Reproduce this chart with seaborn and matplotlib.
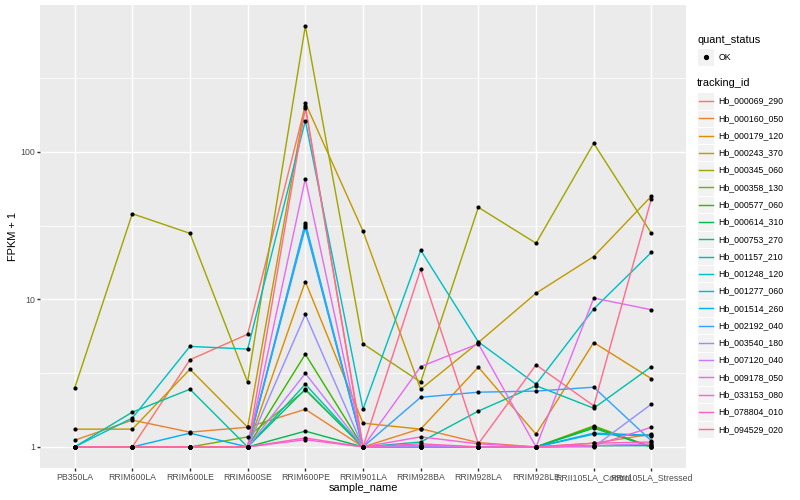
import numpy as np
import pandas as pd
import matplotlib
matplotlib.use("Agg")
import matplotlib.pyplot as plt
import seaborn as sns
from matplotlib.ticker import FixedLocator, NullFormatter, FixedFormatter
from matplotlib.patches import Rectangle

# samples on the x axis, in plotted order
samples = ["PB350LA", "RRIM600LA", "RRIM600LE", "RRIM600SE", "RRIM600PE", "RRIM901LA",
           "RRIM928BA", "RRIM928LA", "RRIM928LE", "RRII105LA_Control", "RRII105LA_Stressed"]

tracking_ids = ["Hb_000069_290", "Hb_000160_050", "Hb_000179_120", "Hb_000243_370",
                "Hb_000345_060", "Hb_000358_130", "Hb_000577_060", "Hb_000614_310",
                "Hb_000753_270", "Hb_001157_210", "Hb_001248_120", "Hb_001277_060",
                "Hb_001514_260", "Hb_002192_040", "Hb_003540_180", "Hb_007120_040",
                "Hb_009178_050", "Hb_033153_080", "Hb_078804_010", "Hb_094529_020"]

# FPKM + 1 per sample
hb_000069_290 = [1, 1, 3.9, 5.8, 205, 1, 1.02, 1, 1, 1.02, 1.03]
hb_000160_050 = [1.11, 1.52, 1.26, 1.36, 1.8, 1.0, 1.33, 1.07, 1.0, 1.06, 1.22]
hb_000179_120 = [1, 1, 1, 1, 13.2, 1.45, 1.32, 3.47, 1.22, 5.1, 2.9]
hb_000243_370 = [1.32, 1.32, 3.36, 1.36, 214, 29, 2.46, 5.1, 11, 19.5, 50]
hb_000345_060 = [2.5, 38, 28, 2.75, 710, 5.0, 2.75, 42, 24, 114, 28]
hb_000358_130 = [1, 1, 1.0, 1.17, 2.43, 1, 1, 1, 1, 1.39, 1.0]
hb_000577_060 = [1, 1, 1, 1, 4.25, 1, 1, 1, 1, 1.37, 1.0]
hb_000614_310 = [1, 1, 1, 1, 1.28, 1, 1, 1, 1, 1.34, 1.0]
hb_000753_270 = [1, 1, 1, 1, 2.46, 1, 1, 1, 1, 1.02, 1.02]
hb_001157_210 = [1, 1.72, 2.46, 1.0, 2.66, 1, 1.08, 1.75, 2.6, 1.83, 3.5]
hb_001248_120 = [1, 1.57, 4.8, 4.6, 162, 1.8, 21.5, 5.15, 2.66, 8.6, 20.8]
hb_001277_060 = [1, 1, 1, 1, 33, 1, 1.02, 1, 1, 1.22, 1.19]
hb_001514_260 = [1, 1, 1.24, 1, 30.7, 1, 1, 1, 1, 1.24, 1.2]
hb_002192_040 = [1, 1, 1, 1, 32, 1, 2.17, 2.35, 2.39, 2.54, 1.1]
hb_003540_180 = [1, 1, 1, 1, 7.9, 1, 1, 1, 1, 1.0, 1.95]
hb_007120_040 = [1, 1, 1, 1, 3.15, 1, 1.02, 1, 1, 1.02, 1.05]
hb_009178_050 = [1, 1, 1, 1, 65.6, 1, 3.5, 5.0, 1.0, 10.2, 8.5]
hb_033153_080 = [1, 1, 1, 1, 1.12, 1, 1.17, 1.05, 1, 1.02, 1.36]
hb_078804_010 = [1, 1, 1, 1, 1.15, 1, 1.05, 1, 1, 1.06, 1.08]
hb_094529_020 = [1, 1, 1, 1, 198, 1, 16, 1.05, 3.6, 1.9, 48]

series = [hb_000069_290, hb_000160_050, hb_000179_120, hb_000243_370, hb_000345_060,
          hb_000358_130, hb_000577_060, hb_000614_310, hb_000753_270, hb_001157_210,
          hb_001248_120, hb_001277_060, hb_001514_260, hb_002192_040, hb_003540_180,
          hb_007120_040, hb_009178_050, hb_033153_080, hb_078804_010, hb_094529_020]

# ggplot default hue palette for 20 levels
colors = ["#F8766D", "#EA8331", "#D89000", "#C09B00", "#A3A500", "#7CAE00", "#39B600",
          "#00BB4E", "#00BF7D", "#00C1A3", "#00BFC4", "#00BAE0", "#00B0F6", "#35A2FF",
          "#9590FF", "#C77CFF", "#E76BF3", "#FA62DB", "#FF62BC", "#FF6C91"]

rows = []
for tid, vals in zip(tracking_ids, series):
    for s, v in zip(samples, vals):
        rows.append((tid, s, v))
df = pd.DataFrame(rows, columns=["tracking_id", "sample_name", "fpkm1"])

plt.rcParams['font.family'] = ['Liberation Sans', 'DejaVu Sans']
W, H = 800, 500
fig = plt.figure(figsize=(8, 5), dpi=100)
px = 0.72  # points per pixel
ax = fig.add_axes([40 / W, 1 - 468 / H, (686 - 40) / W, (468 - 5) / H])
ax.set_facecolor("#EBEBEB")

sns.lineplot(data=df, x="sample_name", y="fpkm1", hue="tracking_id", hue_order=tracking_ids,
             palette=colors, estimator=None, sort=False, linewidth=1.42 * px,
             legend=False, ax=ax, zorder=2)
sns.scatterplot(data=df, x="sample_name", y="fpkm1", color="black", s=9, linewidth=0,
                legend=False, ax=ax, zorder=3)

ax.set_yscale("log")
lo, hi = np.log10(df.fpkm1.min()), np.log10(df.fpkm1.max())
pad = 0.05 * (hi - lo)
ax.set_ylim(10 ** (lo - pad), 10 ** (hi + pad))
ax.set_xlim(-0.6, len(samples) - 1 + 0.6)
ax.yaxis.set_major_locator(FixedLocator([1, 10, 100]))
ax.yaxis.set_major_formatter(FixedFormatter(["1", "10", "100"]))
ax.yaxis.set_minor_locator(FixedLocator([10 ** 0.5, 10 ** 1.5, 10 ** 2.5]))
ax.yaxis.set_minor_formatter(NullFormatter())
ax.grid(which="major", color="white", linewidth=1.42 * px, zorder=0)
ax.grid(which="minor", axis="y", color="white", linewidth=0.71 * px, zorder=0)
ax.set_axisbelow(True)
for sp in ax.spines.values():
    sp.set_visible(False)
ax.tick_params(which="major", length=2.75 * px, width=1.42 * px, color="#333333",
               labelsize=8.8 * px, labelcolor="#4D4D4D", pad=2.2 * px)
ax.tick_params(which="minor", length=0)
ax.set_xlabel("sample_name", fontsize=11 * px, labelpad=1)
ax.set_ylabel("FPKM + 1", fontsize=11 * px, labelpad=1.5)

# legends, drawn in pixel space on an overlay
lg = fig.add_axes([0, 0, 1, 1], zorder=5)
lg.set_xlim(0, W)
lg.set_ylim(H, 0)
lg.axis("off")
kx, ks = 697, 17.28
lg.text(kx, 40, "quant_status", fontsize=11 * px, va="center", ha="left")
lg.add_patch(Rectangle((kx, 57 - ks / 2), ks, ks, facecolor="#F2F2F2", edgecolor="white", lw=0.7))
lg.plot([kx + ks / 2], [57], "o", color="black", ms=2.8)
lg.text(kx + ks + 4, 57, "OK", fontsize=8.8 * px, va="center", ha="left")
lg.text(kx, 83, "tracking_id", fontsize=11 * px, va="center", ha="left")
for i, (tid, c) in enumerate(zip(tracking_ids, colors)):
    cy = 101 + i * ks
    lg.add_patch(Rectangle((kx, cy - ks / 2), ks, ks, facecolor="#F2F2F2", edgecolor="white", lw=0.7))
    lg.plot([kx + 1.7, kx + ks - 1.7], [cy, cy], color=c, lw=1.42 * px)
    lg.text(kx + ks + 4, cy, tid, fontsize=8.8 * px, va="center", ha="left")

fig.savefig("out.png", dpi=100)
